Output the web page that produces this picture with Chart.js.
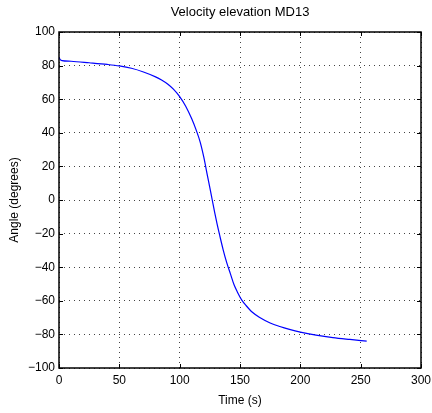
<!DOCTYPE html>
<html>
<head>
<meta charset="utf-8">
<script src="https://cdn.jsdelivr.net/npm/chart.js@4/dist/chart.umd.min.js"></script>
<style>
  html, body { margin: 0; padding: 0; background: #fff; }
  #wrap { width: 432px; height: 413px; }
</style>
</head>
<body>
<div id="wrap"><canvas id="chart" width="432" height="413"></canvas></div>
<script>
// values
const timeS = [0, 1, 2.5, 10, 25, 40, 50, 60, 70, 80, 85, 90, 95, 100, 105, 110, 114, 117, 120, 123, 125, 127, 129, 131, 133, 136, 139, 142, 145, 148, 151.5, 155, 160, 166, 175, 183, 191, 200, 213, 227, 241, 255];
const angleDeg = [84.8, 83.6, 83.0, 82.6, 81.7, 80.7, 79.8, 78.4, 76.2, 73.3, 71.4, 69.0, 65.8, 61.5, 55.8, 48.3, 41.0, 34.5, 25.5, 14.5, 7.3, 0, -7.3, -14.2, -20.5, -29.5, -37.3, -43.8, -50.3, -55.0, -59.6, -62.8, -66.7, -69.8, -73.2, -75.3, -77.0, -78.6, -80.4, -81.9, -83.0, -84.0];
const xTicks = [0, 50, 100, 150, 200, 250, 300];
const yTicks = [-100, -80, -60, -40, -20, 0, 20, 40, 60, 80, 100];

const fontFam = "'Liberation Sans', Arial, Helvetica, sans-serif";

// MATLAB-ish inward ticks on all 4 sides plus box
const boxTicks = {
  id: "boxTicks",
  afterDraw(chart) {
    const { ctx, chartArea: a, scales } = chart;
    ctx.save();
    ctx.strokeStyle = "#000";
    ctx.lineWidth = 1;
    const len = 4;
    xTicks.forEach(v => {
      const px = Math.round(scales.x.getPixelForValue(v)) + 0.5;
      ctx.beginPath();
      ctx.moveTo(px, a.bottom); ctx.lineTo(px, a.bottom - len);
      ctx.moveTo(px, a.top); ctx.lineTo(px, a.top + len);
      ctx.stroke();
    });
    yTicks.forEach(v => {
      const py = Math.round(scales.y.getPixelForValue(v)) + 0.5;
      ctx.beginPath();
      ctx.moveTo(a.left, py); ctx.lineTo(a.left + len, py);
      ctx.moveTo(a.right, py); ctx.lineTo(a.right - len, py);
      ctx.stroke();
    });
    ctx.lineWidth = 1.5;
    ctx.strokeRect(a.left, a.top, a.right - a.left, a.bottom - a.top);
    ctx.restore();
  }
};

new Chart(document.getElementById("chart").getContext("2d"), {
  type: "line",
  data: {
    datasets: [{
      data: timeS.map((t, i) => ({ x: t, y: angleDeg[i] })),
      borderColor: "#0000ff",
      borderWidth: 1.2,
      pointRadius: 0,
      fill: false,
      cubicInterpolationMode: "monotone"
    }]
  },
  options: {
    responsive: false,
    animation: false,
    layout: { padding: { left: 0, right: 11, top: 0, bottom: 0 } },
    plugins: {
      legend: { display: false },
      tooltip: { enabled: false },
      title: {
        display: true,
        fullSize: false,
        text: "Velocity elevation MD13",
        color: "#000",
        font: { family: fontFam, size: 13, weight: "normal" },
        padding: { top: 5, bottom: 11.4 }
      }
    },
    scales: {
      x: {
        type: "linear",
        min: 0,
        max: 300,
        afterBuildTicks: s => { s.ticks = xTicks.map(v => ({ value: v })); },
        afterFit: s => { s.height = 45; s.paddingLeft = 0; s.paddingRight = 0; },
        ticks: { color: "#000", font: { family: fontFam, size: 12 }, padding: 5, maxRotation: 0 },
        grid: { color: "#444", drawTicks: false, lineWidth: 1 },
        border: { display: false, dash: [1, 4] },
        title: { display: true, text: "Time (s)", color: "#000", font: { family: fontFam, size: 12 }, padding: { top: 2, bottom: 5 } }
      },
      y: {
        min: -100,
        max: 100,
        afterBuildTicks: s => { s.ticks = yTicks.map(v => ({ value: v })); },
        afterFit: s => { s.width = 59; s.paddingTop = 0; s.paddingBottom = 0; },
        ticks: {
          color: "#000",
          font: { family: fontFam, size: 12 },
          padding: 4,
          callback: v => String(v).replace("-", "\u2212")
        },
        grid: { color: "#444", drawTicks: false, lineWidth: 1 },
        border: { display: false, dash: [1, 4] },
        title: { display: true, text: "Angle (degrees)", color: "#000", font: { family: fontFam, size: 12 }, padding: { top: 7, bottom: 0 } }
      }
    }
  },
  plugins: [boxTicks]
});
</script>
</body>
</html>
